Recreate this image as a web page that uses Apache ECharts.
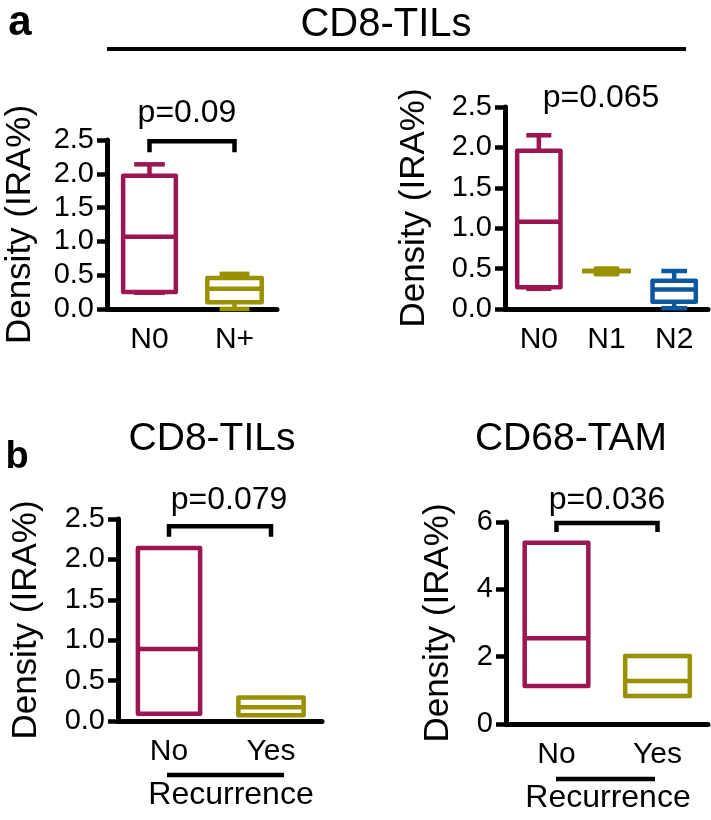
<!DOCTYPE html>
<html><head><meta charset="utf-8">
<script src="https://cdn.jsdelivr.net/npm/echarts@6/dist/echarts.min.js"></script>
<style>html,body{margin:0;padding:0;background:#fff}#c{width:711px;height:820px}</style>
</head><body><div id="c"></div><script>
// ---------- data ----------
// each box: [min, q1, median, q3, max]
const nodeCats = ['N0', 'N+'];
const nodeBoxes = [
  [0.24, 0.25, 1.07, 1.97, 2.14],
  [0.00, 0.10, 0.30, 0.46, 0.52]
];
const stageCats = ['N0', 'N1', 'N2'];
const stageBoxes = [
  [0.25, 0.27, 1.08, 1.96, 2.15],
  [0.47, 0.43, 0.47, 0.50, 0.47],
  [0.01, 0.09, 0.24, 0.35, 0.47]
];
const recCats = ['No', 'Yes'];
const cd8RecBoxes = [
  [0.09, 0.09, 0.89, 2.14, 2.14],
  [0.07, 0.07, 0.17, 0.29, 0.29]
];
const cd68RecBoxes = [
  [1.13, 1.13, 2.55, 5.38, 5.38],
  [0.83, 0.83, 1.28, 2.02, 2.02]
];
const cd8Range = [0, 2.5, 0.5];   // min, max, interval
const cd68Range = [0, 6, 2];
const pTexts = ['p=0.09', 'p=0.065', 'p=0.079', 'p=0.036'];
// bracket: [fromCat, toCat, top, legEnd]
const bracketA = [[0, 1, 2.48, 2.32]];
const bracketC = [[0, 1, 2.41, 2.28]];
const bracketD = [[0, 1, 5.97, 5.70]];
const yTitle = 'Density (IRA%)';

// ---------- style ----------
const FONT = "'Liberation Sans', Arial, Helvetica, sans-serif";
const MAROON = '#9B1652', OLIVE = '#999100', BLUE = '#0C58A0';
const LW = 4.5;

function boxRender(colors, boxFrac, capFrac) {
  return function (params, api) {
    const i = api.value(0);
    const band = api.size([1, 0])[0];
    const cx = api.coord([i, 0])[0];
    const py = k => api.coord([i, api.value(k)])[1];
    const yMin = py(1), yQ1 = py(2), yMed = py(3), yQ3 = py(4), yMax = py(5);
    const bw = band * boxFrac[i], cw = band * capFrac[i];
    const st = { stroke: colors[i], lineWidth: LW, fill: null };
    const L = (x1, y1, x2, y2) => ({ type: 'line', shape: { x1, y1, x2, y2 }, style: st });
    return {
      type: 'group', children: [
        L(cx, yQ3, cx, yMax), L(cx, yQ1, cx, yMin),
        L(cx - cw / 2, yMax, cx + cw / 2, yMax), L(cx - cw / 2, yMin, cx + cw / 2, yMin),
        { type: 'rect', shape: { x: cx - bw / 2, y: yQ3, width: bw, height: yQ1 - yQ3 },
          style: { stroke: colors[i], lineWidth: LW, fill: 'rgba(0,0,0,0)', lineJoin: 'round' } },
        L(cx - bw / 2, yMed, cx + bw / 2, yMed)
      ]
    };
  };
}
function bracketRender(params, api) {
  const top = api.value(2), leg = api.value(3);
  const a = api.coord([api.value(0), top]), b = api.coord([api.value(1), top]);
  const yl = api.coord([api.value(0), leg])[1];
  return { type: 'polyline', shape: { points: [[a[0], yl], [a[0], a[1]], [b[0], b[1]], [b[0], yl]] },
    style: { stroke: '#000', lineWidth: LW, fill: null } };
}
const boxSeries = (idx, boxes, colors, bf, cf) => ({
  type: 'custom', xAxisIndex: idx, yAxisIndex: idx, clip: false, z: 3,
  renderItem: boxRender(colors, bf, cf),
  encode: { x: 0, y: [1, 2, 3, 4, 5] },
  data: boxes.map((b, i) => [i].concat(b))
});
const bracketSeries = (idx, data) => ({
  type: 'custom', xAxisIndex: idx, yAxisIndex: idx, clip: false,
  renderItem: bracketRender, encode: { x: [0, 1], y: [2, 3] }, data: data
});
const xAx = (idx, cats) => ({
  type: 'category', gridIndex: idx, data: cats, boundaryGap: true,
  axisLine: { lineStyle: { color: '#000', width: 5 } },
  axisTick: { alignWithLabel: true, length: 12, lineStyle: { color: '#000', width: LW } },
  axisLabel: { color: '#000', fontSize: 30, fontFamily: FONT, margin: 16 },
  splitLine: { show: false }
});
const yAx = (idx, range, gap, dec) => ({
  type: 'value', gridIndex: idx, min: range[0], max: range[1], interval: range[2],
  axisLine: { show: true, lineStyle: { color: '#000', width: 5 } },
  axisTick: { show: true, length: 10, lineStyle: { color: '#000', width: LW } },
  axisLabel: { color: '#000', fontSize: 29, fontFamily: FONT, margin: 13,
    formatter: v => v.toFixed(dec) },
  splitLine: { show: false },
  name: yTitle, nameLocation: 'middle', nameGap: gap, nameRotate: 90,
  nameTextStyle: { color: '#000', fontSize: 35, fontFamily: FONT }
});
const txt = (x, y, s, size, bold) => ({
  type: 'text', x: x, y: y, z: 10,
  style: { text: s, fill: '#000', fontSize: size, fontFamily: FONT, fontWeight: bold ? 'bold' : 'normal',
    textAlign: 'center', textVerticalAlign: 'middle' }
});
const hline = (x1, x2, y, w) => ({ type: 'line', shape: { x1, y1: y, x2, y2: y }, style: { stroke: '#000', lineWidth: w } });

const chart = echarts.init(document.getElementById('c'), null, { renderer: 'canvas' });
chart.setOption({
  animation: false,
  backgroundColor: '#fff',
  grid: [
    { left: 107, top: 140, width: 170, height: 169 },
    { left: 505, top: 107, width: 203, height: 202 },
    { left: 118, top: 519, width: 204, height: 202 },
    { left: 506, top: 522, width: 202, height: 202 }
  ],
  xAxis: [xAx(0, nodeCats), xAx(1, stageCats), xAx(2, recCats), xAx(3, recCats)],
  yAxis: [yAx(0, cd8Range, 69, 1), yAx(1, cd8Range, 73, 1), yAx(2, cd8Range, 74, 1), yAx(3, cd68Range, 50, 0)],
  series: [
    boxSeries(0, nodeBoxes, [MAROON, OLIVE], [0.62, 0.64], [0.36, 0.35]),
    boxSeries(1, stageBoxes, [MAROON, OLIVE, BLUE], [0.64, 0.32, 0.64], [0.37, 0.72, 0.38]),
    boxSeries(2, cd8RecBoxes, [MAROON, OLIVE], [0.61, 0.64], [0, 0]),
    boxSeries(3, cd68RecBoxes, [MAROON, OLIVE], [0.63, 0.64], [0, 0]),
    bracketSeries(0, bracketA),
    bracketSeries(2, bracketC),
    bracketSeries(3, bracketD)
  ],
  graphic: [
    txt(20, 23, 'a', 42, true),
    txt(386, 25, 'CD8-TILs', 40),
    hline(107, 686, 49, 4),
    txt(187, 113, pTexts[0], 32),
    txt(601, 98, pTexts[1], 32),
    txt(17, 458, 'b', 38, true),
    txt(212, 439, 'CD8-TILs', 39),
    txt(571, 439, 'CD68-TAM', 39),
    txt(229, 500, pTexts[2], 32),
    txt(607, 500, pTexts[3], 32),
    hline(167, 284, 775, 4.5),
    hline(556, 655, 779, 4.5),
    txt(231, 795, 'Recurrence', 32),
    txt(608, 798, 'Recurrence', 32)
  ]
});
</script></body></html>
